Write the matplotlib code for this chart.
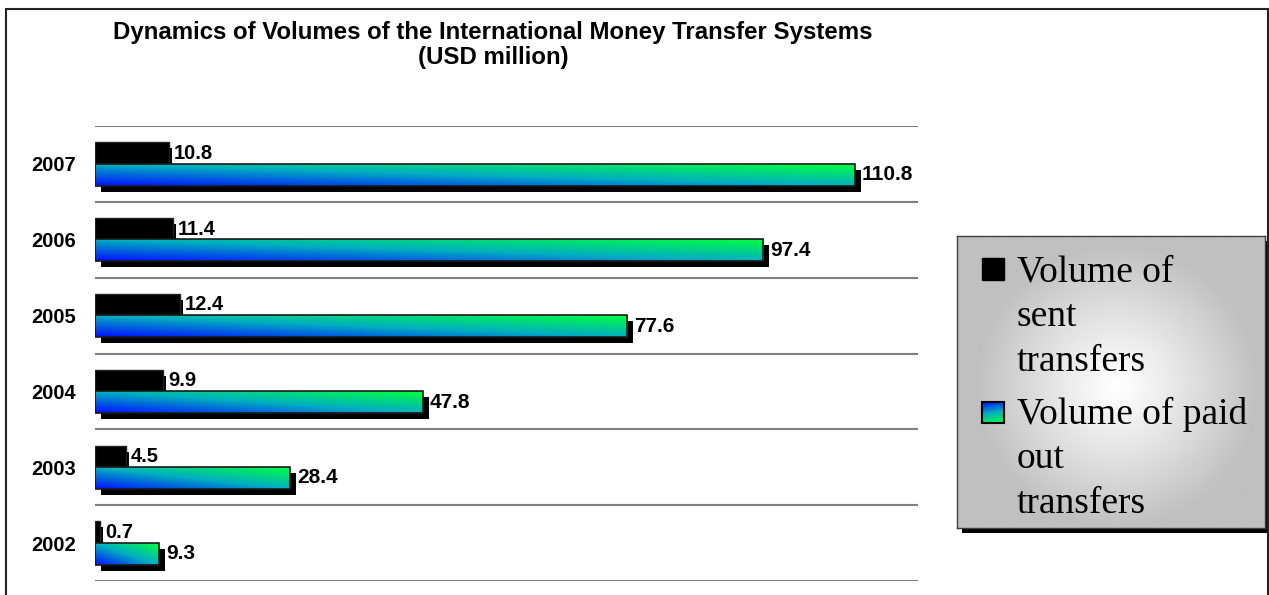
import matplotlib
matplotlib.use("Agg")
import matplotlib.pyplot as plt
import numpy as np
from matplotlib import transforms
from matplotlib.colors import LinearSegmentedColormap
from matplotlib.patches import Rectangle

# data
years = ["2002", "2003", "2004", "2005", "2006", "2007"]
sent = [0.7, 4.5, 9.9, 12.4, 11.4, 10.8]
paid = [9.3, 28.4, 47.8, 77.6, 97.4, 110.8]
legend_labels = ["Volume of\nsent\ntransfers", "Volume of paid\nout\ntransfers"]
title = "Dynamics of Volumes of the International Money Transfer Systems\n(USD million)"

W, H = 1269, 595
plt.rcParams["font.family"] = ["Liberation Sans", "DejaVu Sans"]

fig = plt.figure(figsize=(W / 100, H / 100), dpi=100)
fig.patch.set_facecolor("white")

ax = fig.add_axes([95 / W, 1 - 581 / H, (918 - 95) / W, (581 - 126) / H])

cmap = LinearSegmentedColormap.from_list("bg", ["#0010ff", "#00b0c0", "#00ff40"])
gx, gy = np.meshgrid(np.linspace(0, 1, 200), np.linspace(0, 1, 40))
grad = (gx + gy) / 2

shadow = transforms.offset_copy(ax.transData, fig, x=6, y=-6, units="dots")
bh = 0.29
y = np.arange(len(years))

for i, (s, p) in enumerate(zip(sent, paid)):
    # sent transfers (black bar + shadow)
    ys = y[i] + 0.14 - bh / 2
    ax.add_patch(Rectangle((0, ys), s, bh, fc="black", ec="none", transform=shadow, zorder=2))
    ax.add_patch(Rectangle((0, ys), s, bh, fc="black", ec="#222222", lw=1, zorder=3))
    ax.annotate(f"{s}", (s, y[i] + 0.14), xytext=(5, 0), textcoords="offset pixels",
                ha="left", va="center", fontsize=14.5, fontweight="bold", zorder=3.8,
                bbox=dict(fc="white", ec="none", pad=1.5))
    # paid out transfers (gradient bar + shadow)
    yp = y[i] - 0.14 - bh / 2
    ax.add_patch(Rectangle((0, yp), p, bh, fc="black", ec="none", transform=shadow, zorder=3.5))
    ax.imshow(grad, cmap=cmap, origin="lower", aspect="auto",
              extent=[0, p, yp, yp + bh], zorder=4, interpolation="bilinear")
    ax.add_patch(Rectangle((0, yp), p, bh, fc="none", ec="#1a1a1a", lw=1.2, zorder=5))
    ax.annotate(f"{p}", (p, y[i] - 0.14), xytext=(7, 0), textcoords="offset pixels",
                ha="left", va="center", fontsize=15, fontweight="bold", zorder=6)

for b in np.arange(-0.5, len(years), 1.0):
    ax.axhline(b, color="#808080", lw=1.5, zorder=1)

ax.set_xlim(0, 120)
ax.set_ylim(-0.5, len(years) - 0.5)
ax.set_yticks(y)
ax.set_yticklabels(years, fontsize=14.5, fontweight="bold")
ax.tick_params(axis="y", length=0, pad=14)
ax.set_xticks([])
for sp in ax.spines.values():
    sp.set_visible(False)
ax.patch.set_alpha(0)

fig.text(493 / W, 1 - 45 / H, title, ha="center", va="center", fontsize=17.3,
         fontweight="bold", linespacing=1.15)

# outer border
fig.patches.append(Rectangle((6 / W, -0.05), (1268 - 6) / W, 1.05 - 9 / H, fill=False,
                             ec="#222222", lw=1.5, transform=fig.transFigure, figure=fig))

# legend box with shadow and radial background
lx0, lx1, ly0, ly1 = 957, 1265, 236, 528
fig.patches.append(Rectangle(((lx0 + 5) / W, 1 - (ly1 + 5) / H), (lx1 - lx0) / W,
                             (ly1 - ly0) / H, fc="black", ec="none", zorder=-1,
                             transform=fig.transFigure, figure=fig))
lax = fig.add_axes([lx0 / W, 1 - ly1 / H, (lx1 - lx0) / W, (ly1 - ly0) / H])
lx, ly = np.meshgrid(np.linspace(0, lx1 - lx0, 300), np.linspace(0, ly1 - ly0, 300))
d = np.sqrt(((lx - 160) / 150) ** 2 + ((ly - 150) / 150) ** 2)
shade = np.clip(1 - 0.25 * np.clip(d / 0.95, 0, 1) ** 1.1, 0.75, 1)
lax.imshow(shade, cmap="gray", vmin=0, vmax=1, origin="upper", aspect="auto",
           extent=[0, lx1 - lx0, ly1 - ly0, 0])
lax.set_xticks([])
lax.set_yticks([])
for sp in lax.spines.values():
    sp.set_color("#404040")
    sp.set_linewidth(1)

lax.add_patch(Rectangle((982 - lx0, 258 - ly0), 22, 22, fc="black", ec="black"))
lax.imshow(grad[:, :40], cmap=cmap, origin="upper", aspect="auto",
           extent=[982 - lx0, 1004 - lx0, 423 - ly0, 402 - ly0], zorder=3)
lax.add_patch(Rectangle((982 - lx0, 402 - ly0), 22, 21, fc="none", ec="black", lw=1.5, zorder=4))
lax.set_xlim(0, lx1 - lx0)
lax.set_ylim(ly1 - ly0, 0)

# va="baseline" on multi-line text pins the last line's baseline
for lab, base in zip(legend_labels, [371, 513]):
    lax.text(1017 - lx0, base - ly0, lab, ha="left", va="baseline", fontsize=27,
             family=["Liberation Serif", "DejaVu Serif"], linespacing=1.38)

fig.savefig("out.png", dpi=100, facecolor="white")
